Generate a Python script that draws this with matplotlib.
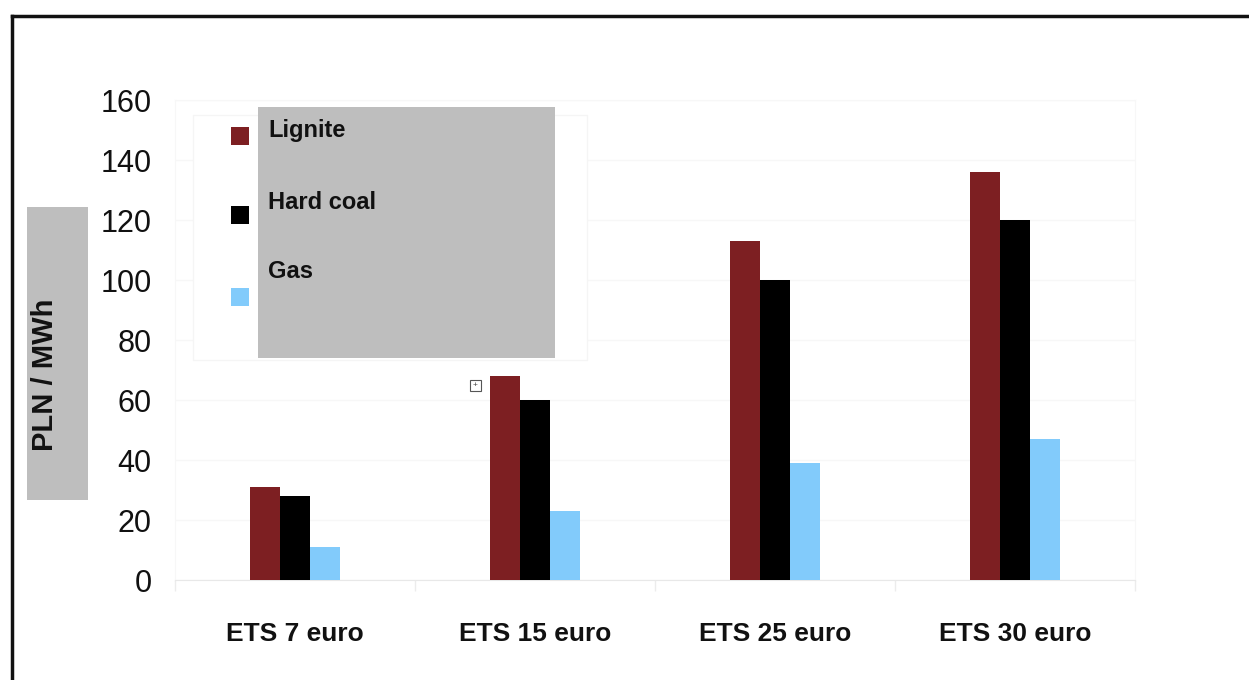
import numpy as np
import matplotlib.pyplot as plt
from matplotlib.patches import Rectangle
from matplotlib.lines import Line2D

# chart data
scenarios = ['ETS 7 euro', 'ETS 15 euro', 'ETS 25 euro', 'ETS 30 euro']
fuels = ['Lignite', 'Hard coal', 'Gas']
lignite = [31, 68, 113, 136]
hard_coal = [28, 60, 100, 120]
gas = [11, 23, 39, 47]
y_ticks = [0, 20, 40, 60, 80, 100, 120, 140, 160]

colors = ['#7d1f22', '#000000', '#82cbfb']
W, H = 1249, 680

plt.rcParams['font.family'] = ['Liberation Sans', 'DejaVu Sans']

fig = plt.figure(figsize=(W / 100, H / 100), dpi=100)
fig.patch.set_facecolor('white')


def fx(px):
    return px / W


def fy(py):
    return 1 - py / H


ax = fig.add_axes([fx(175), fy(580), fx(1135) - fx(175), fy(100) - fy(580)])

x = np.arange(len(scenarios))
bw = 0.125
for i, (vals, c) in enumerate(zip([lignite, hard_coal, gas], colors)):
    ax.bar(x + (i - 1) * bw, vals, width=bw, color=c, zorder=3)

ax.set_xlim(-0.5, len(scenarios) - 0.5)
ax.set_ylim(0, 160)
ax.set_yticks(y_ticks)
ax.set_yticklabels([str(v) for v in y_ticks], fontsize=22, color='#111111')
ax.tick_params(axis='y', length=0, pad=17)
ax.set_xticks(x)
ax.set_xticklabels(scenarios, fontsize=19, fontweight='bold', color='#111111')
ax.tick_params(axis='x', length=0, pad=30)
# small separators between categories
ax.set_xticks(np.arange(-0.5, len(scenarios), 1), minor=True)
ax.tick_params(axis='x', which='minor', length=8, color='#ececec', width=1)
ax.grid(axis='y', color='#f7f7f7', linewidth=1, zorder=0)
for s in ['top', 'right', 'left']:
    ax.spines[s].set_color('#f7f7f7')
ax.spines['bottom'].set_color('#e8e8e8')

# y label on grey box
fig.patches.append(Rectangle((fx(27), fy(500)), fx(88) - fx(27), fy(207) - fy(500),
                             transform=fig.transFigure, facecolor='#bebebe', edgecolor='none'))
fig.text(fx(45), fy(375), 'PLN / MWh', rotation=90, ha='center', va='center',
         fontsize=21, fontweight='bold', color='#111111')

# legend
fig.patches.append(Rectangle((fx(193), fy(360)), fx(587) - fx(193), fy(115) - fy(360),
                             transform=fig.transFigure, facecolor='white', edgecolor='#f5f5f5', lw=1))
fig.patches.append(Rectangle((fx(258), fy(358)), fx(555) - fx(258), fy(107) - fy(358),
                             transform=fig.transFigure, facecolor='#bebebe', edgecolor='none'))
marker_y = [136, 215, 297]
text_y = [131, 202, 272]
for name, c, my, ty in zip(fuels, colors, marker_y, text_y):
    fig.patches.append(Rectangle((fx(231), fy(my + 9)), fx(18), 18 / H,
                                 transform=fig.transFigure, facecolor=c, edgecolor='none'))
    fig.text(fx(268), fy(ty), name, ha='left', va='center', fontsize=17,
             fontweight='bold', color='#111111')

# small expand icon
fig.patches.append(Rectangle((fx(470), fy(391)), fx(11), 11 / H, transform=fig.transFigure,
                             facecolor='white', edgecolor='#555555', lw=0.8))
fig.text(fx(475.5), fy(385.5), '+', ha='center', va='center', fontsize=6, color='#444444')

# outer frame
fig.lines.append(Line2D([fx(12), 1], [fy(16), fy(16)], transform=fig.transFigure,
                        color='#111111', lw=2.5))
fig.lines.append(Line2D([fx(12), fx(12)], [fy(16), 0], transform=fig.transFigure,
                        color='#111111', lw=2.5))

fig.savefig('out.png', dpi=100)
